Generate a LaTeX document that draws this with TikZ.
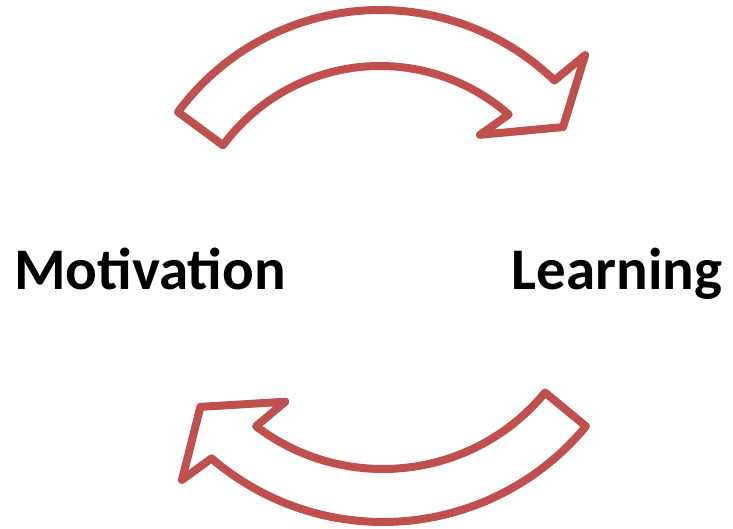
\documentclass[tikz,border=0pt]{standalone}
\usepackage{fontspec}
\setmainfont[Ligatures=Common]{Carlito}
\usetikzlibrary{positioning}
\definecolor{arrowred}{HTML}{C0504D}
\tikzset{
  cyclearrow/.style={draw=arrowred,line width=8pt,line join=round,fill=white},
  word/.style={font=\fontsize{59}{70}\selectfont\bfseries,anchor=base}
}

\begin{document}
\begin{tikzpicture}[x=1pt,y=1pt]
  \useasboundingbox (0,0) rectangle (733,529);
  \coordinate (top c) at (380,268);
  \coordinate (bot c) at (383,270);
  % upper arrow
  \draw[cyclearrow,shift={(top c)}] (143.6:251) arc[start angle=143.6,end angle=46,radius=251]
    -- (45.1:290.6) -- (36.2:226.8) -- (51.6:161) -- (48.7:195)
    arc[start angle=48.7,end angle=143.6,radius=195] -- cycle;
  % lower arrow
  \draw[cyclearrow,shift={(bot c)}] (-39.5:263) arc[start angle=-39.5,end angle=-130.7,radius=263]
    -- (-132.3:298.7) -- (-141:235) -- (-124.4:173) -- (-127.2:210)
    arc[start angle=-127.2,end angle=-39.5,radius=210] -- cycle;
  \node[word] (motivation) at (150,239) {Motivation};
  \node[word] (learning) at (617,239) {Learning};
\end{tikzpicture}
\end{document}
